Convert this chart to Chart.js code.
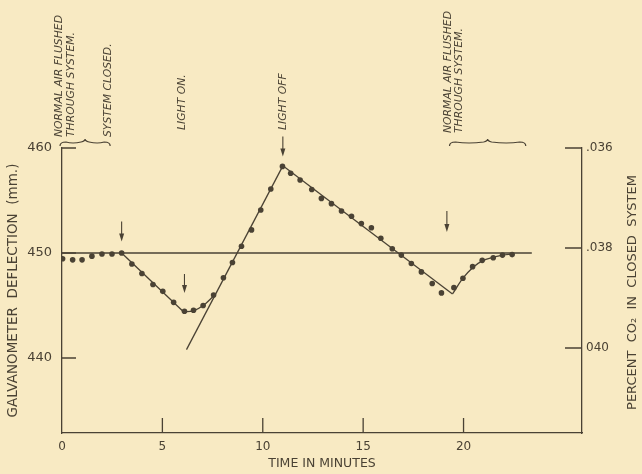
<!DOCTYPE html>
<html>
<head>
<meta charset="utf-8">
<script src="https://cdn.jsdelivr.net/npm/chart.js@4.4.1/dist/chart.umd.min.js"></script>
<style>
  html, body { margin: 0; padding: 0; background: #f8eac3; }
  canvas { display: block; }
</style>
</head>
<body>
<canvas id="chart" width="642" height="474"></canvas>
<script>
// readings taken off the plot: time in minutes, galvanometer deflection in mm
const pointTimes = [0.03, 0.53, 1.0, 1.49, 1.99, 2.49, 2.97, 3.48, 3.98, 4.53, 5.02, 5.56, 6.1, 6.55, 7.03, 7.55,
  8.04, 8.49, 8.94, 9.44, 9.9, 10.4, 10.98, 11.39, 11.86, 12.44, 12.92, 13.42, 13.92, 14.42, 14.91, 15.41,
  15.88, 16.45, 16.9, 17.4, 17.9, 18.44, 18.9, 19.52, 19.97, 20.45, 20.93, 21.48, 21.94, 22.42];
const pointValues = [449.45, 449.35, 449.35, 449.7, 449.9, 449.9, 450.0, 448.95, 448.05, 447.0, 446.35, 445.3, 444.45, 444.55, 445.0, 446.0,
  447.65, 449.1, 450.65, 452.2, 454.1, 456.1, 458.25, 457.6, 456.95, 456.05, 455.2, 454.7, 454.0, 453.5, 452.8, 452.4,
  451.4, 450.4, 449.8, 449.0, 448.2, 447.1, 446.2, 446.7, 447.6, 448.7, 449.3, 449.55, 449.8, 449.85];

// drawn lines
const baseT = [0, 23.4], baseV = [450, 450];
const dropT = [2.97, 6.05], dropV = [450, 444.4];
const bendT = [6.05, 6.55, 7.03, 7.6], bendV = [444.4, 444.5, 445.0, 446.0];
const riseT = [6.2, 11.0], riseV = [440.8, 458.3];
const fallT = [11.0, 19.45], fallV = [458.3, 446.1];
const recoverT = [19.45, 19.97, 20.45, 20.93, 21.48, 21.94, 22.42], recoverV = [446.1, 447.6, 448.6, 449.25, 449.6, 449.8, 449.9];

// axes
const xTicks = [0, 5, 10, 15, 20];
const leftTicks = [440, 450, 460];
const rightTicks = [0.036, 0.038, 0.040];
const rightLabels = ['.036', '.038', '040'];

// notes on top
const arrowTimes = [2.97, 6.1, 11.0, 19.17];
const arrowTails = [453.0, 448.0, 461.1, 454.0];
const arrowTips = [451.1, 446.2, 459.2, 452.0];
const noteTimes = [-0.15, 0.45, 2.28, 6.0, 11.0, 19.25, 19.8];
const noteTexts = ['NORMAL AIR FLUSHED', 'THROUGH SYSTEM.', 'SYSTEM CLOSED.', 'LIGHT ON.', 'LIGHT OFF', 'NORMAL AIR FLUSHED', 'THROUGH SYSTEM.'];
const braceTimes = [[-0.1, 2.4], [19.3, 23.1]];

const ink = '#4a4234';
const fontFam = '"DejaVu Sans", sans-serif';

const toXY = (ts, vs) => ts.map((t, i) => ({ x: t, y: vs[i] }));

function lineSet(ts, vs, curved) {
  return {
    type: 'line', data: toXY(ts, vs), borderColor: ink, borderWidth: 1.3,
    pointRadius: 0, fill: false, cubicInterpolationMode: curved ? 'monotone' : 'default', tension: 0
  };
}

const annotate = {
  id: 'annotate',
  beforeDraw(chart) {
    const ctx = chart.ctx;
    ctx.save();
    ctx.fillStyle = '#f8eac3';
    ctx.fillRect(0, 0, chart.width, chart.height);
    ctx.restore();
  },
  afterDraw(chart) {
    const { ctx, chartArea, scales } = chart;
    const x = scales.x, y = scales.y, y2 = scales.y2;
    ctx.save();
    ctx.strokeStyle = ink;
    ctx.fillStyle = ink;
    ctx.lineWidth = 1.3;

    // tick marks pointing into the plot
    ctx.beginPath();
    leftTicks.forEach(v => {
      const py = y.getPixelForValue(v);
      ctx.moveTo(chartArea.left, py); ctx.lineTo(chartArea.left + 14, py);
    });
    rightTicks.forEach(v => {
      const py = y2.getPixelForValue(v);
      ctx.moveTo(chartArea.right, py); ctx.lineTo(chartArea.right - 17, py);
    });
    xTicks.filter(v => v > 0).forEach(v => {
      const px = x.getPixelForValue(v);
      ctx.moveTo(px, chartArea.bottom); ctx.lineTo(px, chartArea.bottom - 15);
    });
    ctx.stroke();

    // arrows
    arrowTimes.forEach((t, i) => {
      const px = x.getPixelForValue(t);
      const top = y.getPixelForValue(arrowTails[i]);
      const tip = y.getPixelForValue(arrowTips[i]);
      ctx.beginPath();
      ctx.lineWidth = 1.1;
      ctx.moveTo(px, top); ctx.lineTo(px, tip - 4);
      ctx.stroke();
      ctx.beginPath();
      ctx.moveTo(px - 2.5, tip - 8); ctx.lineTo(px + 2.5, tip - 8); ctx.lineTo(px, tip);
      ctx.closePath();
      ctx.fill();
    });

    // braces
    ctx.lineWidth = 1.2;
    braceTimes.forEach(([a, b]) => {
      const x1 = x.getPixelForValue(a), x2 = x.getPixelForValue(b);
      const mid = (x1 + x2) / 2;
      const yb = chartArea.top - 2, ya = chartArea.top - 8;
      ctx.beginPath();
      ctx.moveTo(x1, yb);
      ctx.quadraticCurveTo(x1, ya + 2, x1 + 6, ya + 2);
      ctx.quadraticCurveTo((x1 + mid) / 2, ya + 4, mid - 4, ya + 2);
      ctx.quadraticCurveTo(mid, ya + 1, mid, ya - 1);
      ctx.quadraticCurveTo(mid, ya + 1, mid + 4, ya + 2);
      ctx.quadraticCurveTo((x2 + mid) / 2, ya + 4, x2 - 6, ya + 2);
      ctx.quadraticCurveTo(x2, ya + 2, x2, yb);
      ctx.stroke();
    });

    // rotated notes
    const noteBottoms = [137, 137, 137, 130, 130, 133, 133];
    ctx.font = 'italic 10.8px ' + fontFam;
    ctx.textAlign = 'left';
    ctx.textBaseline = 'middle';
    noteTexts.forEach((txt, i) => {
      ctx.save();
      ctx.translate(x.getPixelForValue(noteTimes[i]), noteBottoms[i]);
      ctx.rotate(-Math.PI / 2);
      ctx.fillText(txt, 0, 0);
      ctx.restore();
    });

    // right axis title, reading upwards
    ctx.font = '13px ' + fontFam;
    ctx.textAlign = 'center';
    ctx.save();
    ctx.translate(633, (chartArea.top + chartArea.bottom) / 2 + 2);
    ctx.rotate(-Math.PI / 2);
    ctx.fillText('PERCENT  CO\u2082  IN  CLOSED  SYSTEM', 0, 0);
    ctx.restore();

    ctx.restore();
  }
};

new Chart(document.getElementById('chart'), {
  data: {
    datasets: [
      {
        type: 'scatter', data: toXY(pointTimes, pointValues),
        backgroundColor: ink, borderWidth: 0, pointRadius: 2.8, order: 0
      },
      lineSet(baseT, baseV, false),
      lineSet(dropT, dropV, false),
      lineSet(bendT, bendV, true),
      lineSet(riseT, riseV, false),
      lineSet(fallT, fallV, false),
      lineSet(recoverT, recoverV, true)
    ]
  },
  options: {
    responsive: false,
    animation: false,
    devicePixelRatio: 1,
    layout: { padding: { top: 148, left: 0, right: 0, bottom: 0 } },
    plugins: { legend: { display: false }, tooltip: { enabled: false } },
    scales: {
      x: {
        type: 'linear', position: 'bottom', min: 0, max: 25.9,
        afterBuildTicks: s => { s.ticks = xTicks.map(v => ({ value: v })); },
        afterFit: s => { s.height = 41; },
        grid: { display: false, drawTicks: false },
        border: { display: true, color: ink, width: 1.3 },
        ticks: { color: ink, font: { family: fontFam, size: 12 }, padding: 7, maxRotation: 0, autoSkip: false },
        title: { display: true, text: 'TIME IN MINUTES', color: ink, font: { family: fontFam, size: 12.5 }, padding: { top: 0, bottom: 3 } }
      },
      y: {
        type: 'linear', position: 'left', min: 432.86, max: 460,
        afterBuildTicks: s => { s.ticks = leftTicks.map(v => ({ value: v })); },
        afterFit: s => { s.width = 62; },
        grid: { display: false, drawTicks: false },
        border: { display: true, color: ink, width: 1.3 },
        ticks: { color: ink, font: { family: fontFam, size: 13 }, padding: 10 },
        title: { display: true, text: 'GALVANOMETER  DEFLECTION  (mm.)', color: ink, font: { family: fontFam, size: 13.5 }, padding: { top: 5, bottom: 0 } }
      },
      y2: {
        type: 'linear', position: 'right', reverse: true, min: 0.036, max: 0.0417,
        afterBuildTicks: s => { s.ticks = rightTicks.map(v => ({ value: v })); },
        afterFit: s => { s.width = 60; },
        grid: { display: false, drawTicks: false },
        border: { display: true, color: ink, width: 1.3 },
        ticks: { color: ink, font: { family: fontFam, size: 12 }, padding: 4, callback: (v, i) => rightLabels[i] }
      }
    }
  },
  plugins: [annotate]
});
</script>
</body>
</html>
